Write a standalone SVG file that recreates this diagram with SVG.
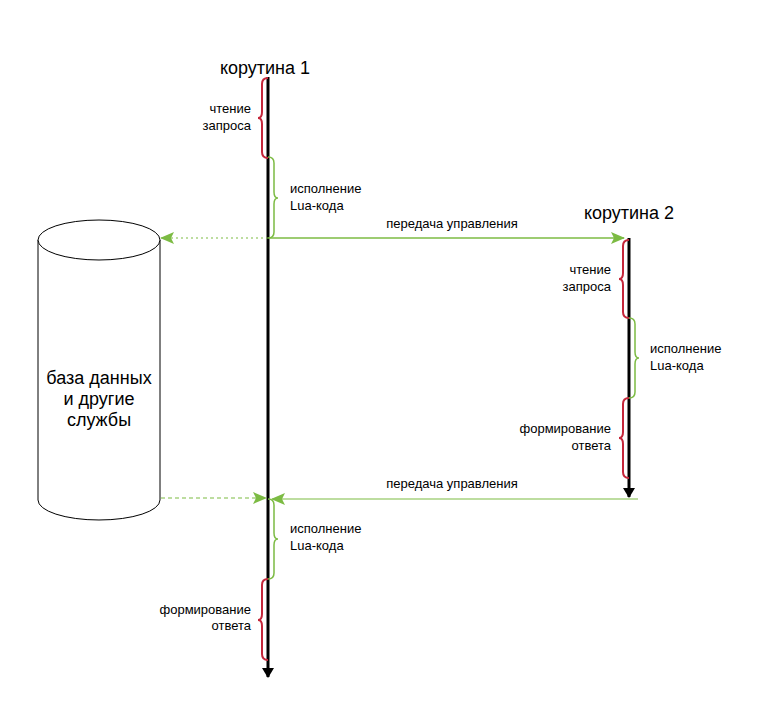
<svg xmlns="http://www.w3.org/2000/svg" width="775" height="713" viewBox="0 0 775 713">
<style>
text{font-family:"Liberation Sans",Arial,sans-serif;font-size:13px;fill:#000}
.t{font-size:18px}
.r{fill:none;stroke:#c4263a;stroke-width:2}
.g{fill:none;stroke:#7cbb43;stroke-width:1.5}
.ln{stroke:#000;stroke-width:3}
</style>
<defs>
<marker id="ab" markerWidth="10" markerHeight="12" refX="9" refY="6" orient="auto" markerUnits="userSpaceOnUse"><path d="M0,0 L10,6 L0,12 Z" fill="#000"/></marker>
<marker id="ag" markerWidth="14" markerHeight="12" refX="13" refY="6" orient="auto" markerUnits="userSpaceOnUse"><path d="M0,0 L14,6 L0,12 L3,6 Z" fill="#7cbb43"/></marker>
</defs>
<rect width="775" height="713" fill="#fff"/>
<g id="db">
<path d="M38,240 L38,500 A61,20 0 0 0 160,500 L160,240" fill="#fff" stroke="#000"/>
<ellipse cx="99" cy="240" rx="61" ry="20" fill="#fff" stroke="#000"/>
<text x="99" y="384" text-anchor="middle" class="t">база данных</text>
<text x="99" y="405" text-anchor="middle" class="t">и другие</text>
<text x="99" y="426" text-anchor="middle" class="t">службы</text>
</g>
<g id="c1">
<text x="265" y="74" text-anchor="middle" class="t">корутина 1</text>
<line x1="268" y1="77" x2="268" y2="677" class="ln" marker-end="url(#ab)"/>
<path class="r" d="M268,78 q-6,0 -6,6 v28 q0,6 -4,6 q4,0 4,6 v28 q0,6 6,6"/>
<text x="251" y="113" text-anchor="end">чтение</text>
<text x="251" y="130" text-anchor="end">запроса</text>
<path class="g" d="M268,157 q6,0 6,6 v29 q0,6 4,6 q-4,0 -4,6 v28 q0,6 -6,6"/>
<text x="290" y="193">исполнение</text>
<text x="290" y="210">Lua-кода</text>
<path class="g" d="M268,499 q6,0 6,6 v28 q0,6 4,6 q-4,0 -4,6 v28 q0,6 -6,6"/>
<text x="290" y="533">исполнение</text>
<text x="290" y="550">Lua-кода</text>
<path class="r" d="M268,579 q-6,0 -6,6 v29 q0,6 -4,6 q4,0 4,6 v28 q0,6 6,6"/>
<text x="251" y="614" text-anchor="end">формирование</text>
<text x="251" y="630" text-anchor="end">ответа</text>
</g>
<g id="c2">
<text x="629" y="219" text-anchor="middle" class="t">корутина 2</text>
<line x1="629" y1="238" x2="629" y2="497" class="ln" marker-end="url(#ab)"/>
<path class="r" d="M629,240 q-6,0 -6,6 v27 q0,6 -4,6 q4,0 4,6 v27 q0,6 6,6"/>
<text x="611" y="274" text-anchor="end">чтение</text>
<text x="611" y="291" text-anchor="end">запроса</text>
<path class="g" d="M629,318 q6,0 6,6 v28 q0,6 4,6 q-4,0 -4,6 v28 q0,6 -6,6"/>
<text x="650" y="353">исполнение</text>
<text x="650" y="370">Lua-кода</text>
<path class="r" d="M629,398 q-6,0 -6,6 v28 q0,6 -4,6 q4,0 4,6 v28 q0,6 6,6"/>
<text x="611" y="433" text-anchor="end">формирование</text>
<text x="611" y="450" text-anchor="end">ответа</text>
</g>
<g id="connectors">
<line x1="269" y1="238" x2="624" y2="238" stroke="#7cbb43" stroke-width="1.5" marker-end="url(#ag)"/>
<text x="452" y="228" text-anchor="middle">передача управления</text>
<line x1="268" y1="238" x2="161" y2="238" stroke="#7cbb43" stroke-width="1.2" stroke-dasharray="2,3" marker-end="url(#ag)"/>
<line x1="638" y1="499" x2="272" y2="499" stroke="#7cbb43" stroke-width="1.2" marker-end="url(#ag)"/>
<text x="452" y="488" text-anchor="middle">передача управления</text>
<line x1="161" y1="498" x2="266" y2="498" stroke="#7cbb43" stroke-width="1.2" stroke-dasharray="4,3" marker-end="url(#ag)"/>
</g>
</svg>
